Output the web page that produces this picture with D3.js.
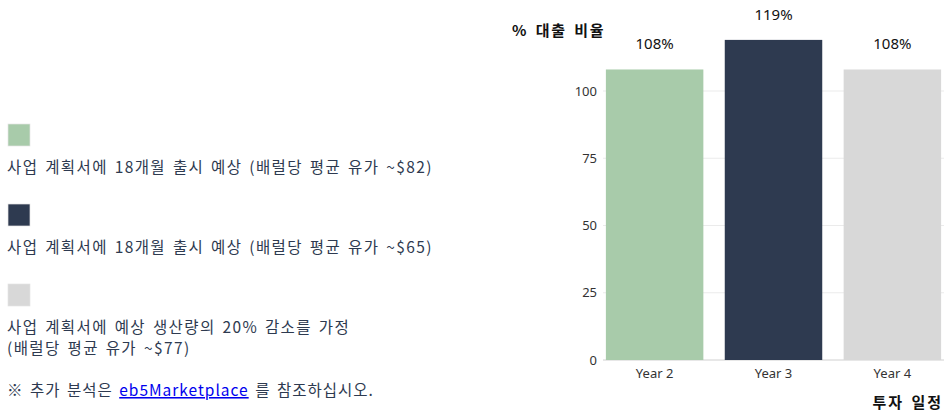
<!DOCTYPE html>
<html><head><meta charset="utf-8">
<script src="https://cdn.jsdelivr.net/npm/d3@7"></script>
<style>
body{margin:0;background:#fff;}
svg text{font-family:"Noto Sans CJK KR","Noto Sans",sans-serif;}
</style></head>
<body><svg id="c" width="950" height="420"></svg>
<script>
const categories = ["Year 2","Year 3","Year 4"];
const values = [108,119,108];
const valueLabels = ["108%","119%","108%"];
const colors = ["#a8cbaa","#2e3a50","#d8d8d8"];
const yTicks = [0,25,50,75,100];
const legendLabels = [
  ["사업 계획서에 18개월 출시 예상 (배럴당 평균 유가 ~$82)"],
  ["사업 계획서에 18개월 출시 예상 (배럴당 평균 유가 ~$65)"],
  ["사업 계획서에 예상 생산량의 20% 감소를 가정","(배럴당 평균 유가 ~$77)"]
];

const svg = d3.select("#c");
const x = d3.scaleBand().domain(categories).range([603.5,943.5]).paddingInner(0.18).paddingOuter(0.02);
const y = d3.scaleLinear().domain([0,100]).range([360,91]);

// grid
svg.append("g").selectAll("line").data(yTicks).join("line")
  .attr("x1",603).attr("x2",944).attr("y1",d=>y(d)).attr("y2",d=>y(d))
  .attr("stroke",d=>d===0?"#d0d0d0":"#ebebeb").attr("stroke-width",1);

// y axis labels
const ya = svg.append("g").attr("transform","translate(603,0)")
  .call(d3.axisLeft(y).tickValues(yTicks).tickSize(0).tickPadding(6));
ya.select(".domain").remove();
ya.selectAll("text").attr("font-size",13).attr("fill","#333").style("font-family","'Noto Sans','Liberation Sans',sans-serif");

// bars
svg.append("g").selectAll("rect").data(values).join("rect")
  .attr("x",(d,i)=>x(categories[i])).attr("width",x.bandwidth())
  .attr("y",d=>y(d)).attr("height",d=>y(0)-y(d))
  .attr("fill",(d,i)=>colors[i]);

// value labels
svg.append("g").selectAll("text").data(values).join("text")
  .attr("x",(d,i)=>x(categories[i])+x.bandwidth()/2).attr("y",d=>y(d)-20)
  .attr("text-anchor","middle").attr("font-size",15).attr("fill","#111")
  .style("font-family","'Noto Sans','Liberation Sans',sans-serif")
  .text((d,i)=>valueLabels[i]);

// x axis
const xa = svg.append("g").attr("transform","translate(0,360)")
  .call(d3.axisBottom(x).tickSize(0).tickPadding(9));
xa.select(".domain").remove();
xa.selectAll("text").attr("font-size",13).attr("fill","#333").style("font-family","'Noto Sans','Liberation Sans',sans-serif");

// axis titles
svg.append("text").attr("x",512).attr("y",36).attr("font-size",15).attr("font-weight","bold")
  .attr("letter-spacing",1.5).attr("word-spacing",3).attr("fill","#111").text("% 대출 비율");
svg.append("text").attr("x",943).attr("y",408).attr("text-anchor","end").attr("font-size",15).attr("font-weight","bold")
  .attr("letter-spacing",2).attr("word-spacing",2).attr("fill","#111").text("투자 일정");

// legend
const legY = [124,204,284];
const lg = svg.append("g");
legendLabels.forEach((lines,i)=>{
  lg.append("rect").attr("x",8).attr("y",legY[i]).attr("width",22).attr("height",22)
    .attr("fill",colors[i]).attr("stroke","#e4e4e4").attr("stroke-width",0.7);
  lines.forEach((t,j)=>{
    lg.append("text").attr("x",7).attr("y",legY[i]+49+j*21).attr("font-size",15.5)
      .attr("letter-spacing",1.4).attr("word-spacing",2)
      .attr("fill","#2e3a50").text(t);
  });
});

// footnote
const fn = svg.append("text").attr("x",7).attr("y",396).attr("font-size",15.5)
  .attr("letter-spacing",1).attr("word-spacing",2).attr("fill","#2e3a50");
fn.append("tspan").text("※ 추가 분석은 ");
fn.append("tspan").attr("fill","#0000ee").attr("text-decoration","underline").text("eb5Marketplace");
fn.append("tspan").text(" 를 참조하십시오.");
</script></body></html>
